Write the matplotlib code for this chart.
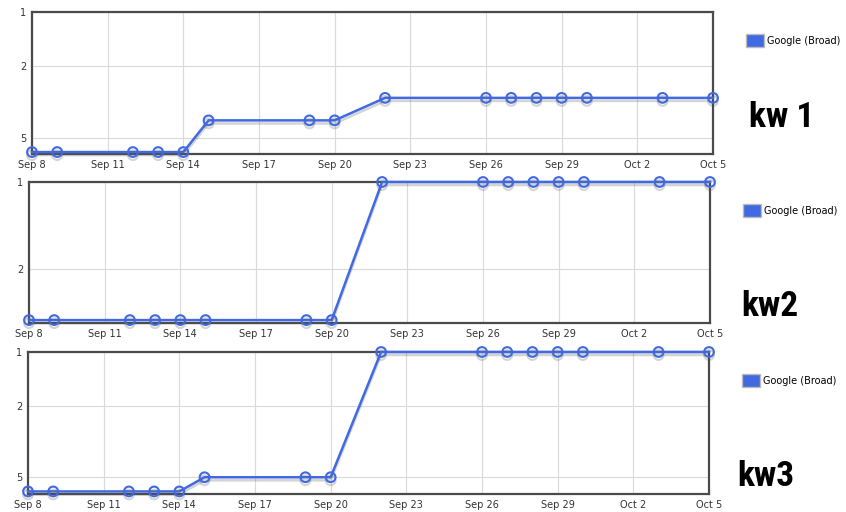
import datetime as dt
import matplotlib
matplotlib.use("Agg")
import matplotlib.pyplot as plt
import matplotlib.dates as mdates
import matplotlib.patheffects as pe
from matplotlib import font_manager
from matplotlib.patches import Patch
from matplotlib.ticker import FixedLocator, NullLocator, FuncFormatter

# data: ranking per day (lower number = better position)
days = ["09-08", "09-09", "09-12", "09-13", "09-14", "09-15", "09-19", "09-20",
        "09-22", "09-26", "09-27", "09-28", "09-29", "09-30", "10-03", "10-05"]
kw1 = [6, 6, 6, 6, 6, 4, 4, 4, 3, 3, 3, 3, 3, 3, 3, 3]
kw2 = [3, 3, 3, 3, 3, 3, 3, 3, 1, 1, 1, 1, 1, 1, 1, 1]
kw3 = [6, 6, 6, 6, 6, 5, 5, 5, 1, 1, 1, 1, 1, 1, 1, 1]
names = ["kw 1", "kw2", "kw3"]
series_label = "Google (Broad)"
y_ticks = [1, 2, 5]

dates = [dt.datetime.strptime("2009-" + d, "%Y-%m-%d") for d in days]
x_start = dt.datetime(2009, 9, 8)
x_end = dt.datetime(2009, 10, 5)
x_ticks = [x_start + dt.timedelta(days=3 * k) for k in range(10)]

blue = "#4169e1"
W, H = 846, 512


# the big "kw" labels are in a narrow bold face; pick one if there is one
def pick_narrow():
    for fam, stretch in [("Liberation Sans Narrow", "normal"), ("Roboto Condensed", "normal"),
                         ("DejaVu Sans", "condensed")]:
        try:
            fp = font_manager.FontProperties(family=fam, weight="bold", stretch=stretch)
            f = font_manager.findfont(fp, fallback_to_default=False)
            if "Narrow" in f or "Condensed" in f:
                return dict(family=[fam, "DejaVu Sans"], fontstretch=stretch, fontsize=25.5)
        except Exception:
            pass
    return dict(family=["Liberation Sans", "DejaVu Sans"], fontsize=23)


kw_font = pick_narrow()

fig = plt.figure(figsize=(W / 100, H / 100), dpi=100)

# axes boxes in pixels: left, right, top, bottom
boxes = [(32, 713, 12, 154), (29, 710, 182, 323), (28, 709, 352, 494)]
ybottoms = [6.15, 3.07, 6.2]
legend_pos = [(745, 33), (742, 203), (741, 373)]
kw_pos = [(749, 127), (741, 316), (737, 486)]

for i, vals in enumerate([kw1, kw2, kw3]):
    l, r, t, b = boxes[i]
    ax = fig.add_axes([l / W, 1 - b / H, (r - l) / W, (b - t) / H])
    ax.set_yscale("log")
    ax.set_ylim(ybottoms[i], 1)
    ax.yaxis.set_major_locator(FixedLocator(y_ticks))
    ax.yaxis.set_minor_locator(NullLocator())
    ax.yaxis.set_major_formatter(FuncFormatter(lambda v, p: "%d" % v))
    ax.set_xlim(x_start, x_end)
    ax.set_xticks(x_ticks)
    ax.xaxis.set_major_formatter(FuncFormatter(
        lambda v, p: "%s %d" % (mdates.num2date(v).strftime("%b"), mdates.num2date(v).day)))
    ax.tick_params(length=0, labelsize=7, labelcolor="#333333", pad=4)
    ax.grid(True, color="#dadada", linewidth=0.8)
    ax.set_axisbelow(True)
    for s in ax.spines.values():
        s.set_color("#4a4a4a")
        s.set_linewidth(1.6)

    ax.plot(dates, vals, color=blue, linewidth=1.8, marker="o", markersize=7,
            markerfacecolor="none", markeredgecolor=blue, markeredgewidth=1.5,
            clip_on=False, zorder=5,
            path_effects=[pe.SimpleLineShadow(offset=(0, -2.2), shadow_color="#555555", alpha=0.25),
                          pe.Normal()])

    lx, ly = legend_pos[i]
    ax.legend(handles=[Patch(facecolor=blue, edgecolor="#bbbbbb", linewidth=1, label=series_label)],
              loc="upper left", bbox_to_anchor=(lx / W - 0.004, 1 - ly / H + 0.006),
              bbox_transform=fig.transFigure, frameon=False, fontsize=7,
              handlelength=1.9, handleheight=1.7, handletextpad=0.35, borderaxespad=0)

    kx, ky = kw_pos[i]
    fig.text(kx / W, 1 - ky / H, names[i], fontweight="bold", va="baseline", ha="left", **kw_font)

fig.savefig("out.png", dpi=100)
